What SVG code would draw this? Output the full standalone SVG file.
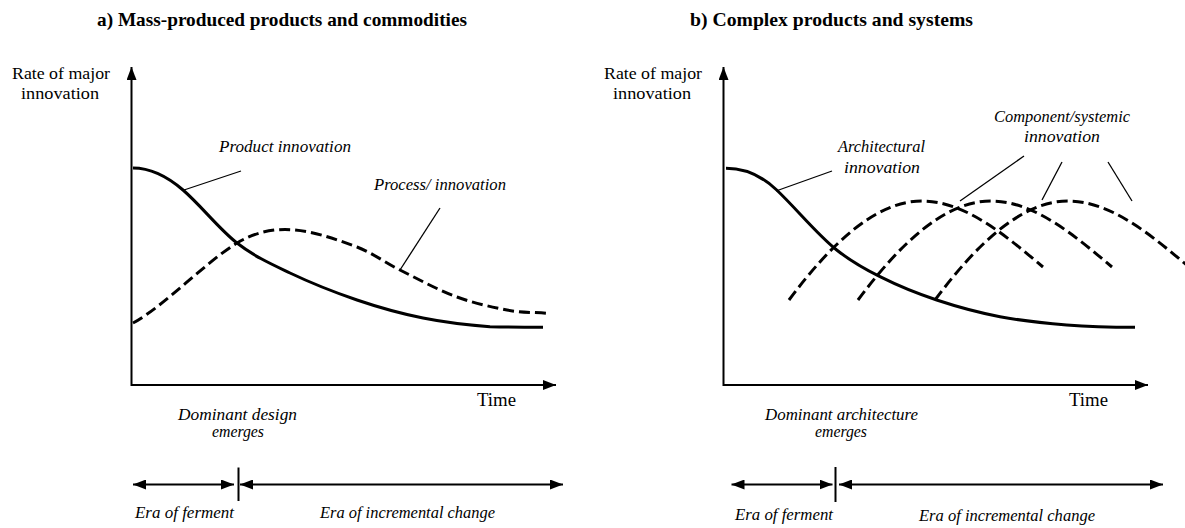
<svg xmlns="http://www.w3.org/2000/svg" width="1185" height="528" viewBox="0 0 1185 528">
<style>
.t{font-family:"Liberation Serif","Times New Roman",serif;font-size:18px;fill:#000}
.y{font-size:17px}
.b{font-weight:bold;font-size:19px}
.i{font-style:italic;font-size:17px}
.ax{stroke:#000;stroke-width:2;fill:none}
.sol{stroke:#000;stroke-width:3;fill:none}
.dash{stroke:#000;stroke-width:3;fill:none;stroke-dasharray:11 5}
.lead{stroke:#000;stroke-width:1.3;fill:none}
</style>
<defs>
<marker id="ae" markerUnits="userSpaceOnUse" markerWidth="13" markerHeight="10" refX="13" refY="5" orient="auto"><path d="M0,0 L13,5 L0,10 z" fill="#000"/></marker>
<marker id="as" markerUnits="userSpaceOnUse" markerWidth="13" markerHeight="10" refX="0" refY="5" orient="auto"><path d="M13,0 L0,5 L13,10 z" fill="#000"/></marker>
</defs>
<rect width="1185" height="528" fill="#fff"/>

<g id="panel-a">
<g id="a-title"><text class="t b" x="97" y="26" textLength="370" lengthAdjust="spacingAndGlyphs">a) Mass-produced products and commodities</text></g>
<g id="a-ylabel"><text class="t y" x="12" y="79" textLength="98" lengthAdjust="spacingAndGlyphs">Rate of major</text><text class="t y" x="21" y="98.5" textLength="78" lengthAdjust="spacingAndGlyphs">innovation</text></g>
<g id="a-xlabel"><text class="t" x="477" y="406" textLength="39" lengthAdjust="spacingAndGlyphs">Time</text></g>
<g id="a-product-label"><text class="t i" x="219" y="152" textLength="132" lengthAdjust="spacingAndGlyphs">Product innovation</text></g>
<g id="a-process-label"><text class="t i" x="374" y="190" textLength="132" lengthAdjust="spacingAndGlyphs">Process/ innovation</text></g>
<g id="a-dominant"><text class="t i" x="178" y="420" textLength="119" lengthAdjust="spacingAndGlyphs">Dominant design</text><text class="t i" x="212" y="437" textLength="52" lengthAdjust="spacingAndGlyphs">emerges</text></g>
<g id="a-ferment"><text class="t i" x="135" y="518" textLength="99" lengthAdjust="spacingAndGlyphs">Era of ferment</text></g>
<g id="a-incremental"><text class="t i" x="320" y="518" textLength="175" lengthAdjust="spacingAndGlyphs">Era of incremental change</text></g>
</g>

<g id="panel-b">
<g id="b-title"><text class="t b" x="690" y="26" textLength="283" lengthAdjust="spacingAndGlyphs">b) Complex products and systems</text></g>
<g id="b-ylabel"><text class="t y" x="604" y="79" textLength="98" lengthAdjust="spacingAndGlyphs">Rate of major</text><text class="t y" x="613" y="98.5" textLength="78" lengthAdjust="spacingAndGlyphs">innovation</text></g>
<g id="b-xlabel"><text class="t" x="1069" y="406" textLength="39" lengthAdjust="spacingAndGlyphs">Time</text></g>
<g id="b-arch-label"><text class="t i" x="838" y="152" textLength="87" lengthAdjust="spacingAndGlyphs">Architectural</text><text class="t i" x="844" y="173" textLength="76" lengthAdjust="spacingAndGlyphs">innovation</text></g>
<g id="b-comp-label"><text class="t i" x="994" y="122" textLength="136" lengthAdjust="spacingAndGlyphs">Component/systemic</text><text class="t i" x="1024" y="142" textLength="76" lengthAdjust="spacingAndGlyphs">innovation</text></g>
<g id="b-dominant"><text class="t i" x="765" y="420" textLength="153" lengthAdjust="spacingAndGlyphs">Dominant architecture</text><text class="t i" x="815" y="437" textLength="52" lengthAdjust="spacingAndGlyphs">emerges</text></g>
<g id="b-ferment"><text class="t i" x="735" y="520" textLength="98" lengthAdjust="spacingAndGlyphs">Era of ferment</text></g>
<g id="b-incremental"><text class="t i" x="919" y="521" textLength="176" lengthAdjust="spacingAndGlyphs">Era of incremental change</text></g>
</g>

<g id="connectors">
<polyline class="ax" points="131.5,67 131.5,385 556,385" marker-start="url(#as)" marker-end="url(#ae)"/>
<path class="sol" d="M133,168 C149.7,168 166.3,175.6 183,190 C201,205.5 219,229 237,243 C254.7,256.8 272.3,264.6 290,273 C312.3,283.6 334.7,292.4 357,300 C379,307.5 401,313.6 423,318 C445.3,322.5 467.7,325 490,326.7 C507.7,327.2 525.3,327.3 543,327.3"/>
<path class="dash" d="M133,323 C163,307 207,261 237,243 C253,233.4 269,229.5 285,229.5 C309,229.5 333,238.1 357,247 C371.3,252.3 385.7,262.9 400,270 C419,279.5 438,290 457,297 C473.7,303.2 490.3,306.7 507,310 C520.3,312.7 533.7,312.2 547,313.3"/>
<line class="lead" x1="184" y1="190" x2="241" y2="171"/>
<line class="lead" x1="440" y1="208" x2="400" y2="270"/>
<line class="ax" x1="133" y1="484.5" x2="234" y2="484.5" marker-start="url(#as)" marker-end="url(#ae)"/>
<line class="ax" x1="238.5" y1="467.5" x2="238.5" y2="501"/>
<line class="ax" x1="240" y1="484.5" x2="563" y2="484.5" marker-start="url(#as)" marker-end="url(#ae)"/>

<polyline class="ax" points="723.5,67 723.5,385 1148,385" marker-start="url(#as)" marker-end="url(#ae)"/>
<path class="sol" d="M726,168.3 C742.9,168.3 759.8,173.9 776.7,190 C796.7,209 816.7,234 836.7,250 C851.1,261.5 865.6,269.5 880,276.7 C898.9,286.2 917.8,293.8 936.7,300 C957.8,307 978.9,312.7 1000,316.7 C1022.2,320.9 1044.5,323.2 1066.7,325 C1089.5,326.8 1112.2,327.3 1135,327.3"/>
<path class="dash" d="M789,300 C830,245 875,201 922,201 C965,201 1005,235 1043,267"/>
<path class="dash" transform="translate(69,0)" d="M789,300 C830,245 875,201 922,201 C965,201 1005,235 1043,267"/>
<path class="dash" transform="translate(146,0)" d="M789,300 C830,245 875,201 922,201 C965,201 1005,235 1043,267"/>
<line class="lead" x1="776" y1="191" x2="832" y2="171"/>
<line class="lead" x1="1024" y1="156" x2="960" y2="201"/>
<line class="lead" x1="1062" y1="162" x2="1042" y2="200"/>
<line class="lead" x1="1108" y1="162" x2="1132" y2="201"/>
<line class="ax" x1="731.5" y1="484.5" x2="832.5" y2="484.5" marker-start="url(#as)" marker-end="url(#ae)"/>
<line class="ax" x1="835.5" y1="467" x2="835.5" y2="502"/>
<line class="ax" x1="839" y1="484.5" x2="1163" y2="484.5" marker-start="url(#as)" marker-end="url(#ae)"/>
</g>
</svg>
